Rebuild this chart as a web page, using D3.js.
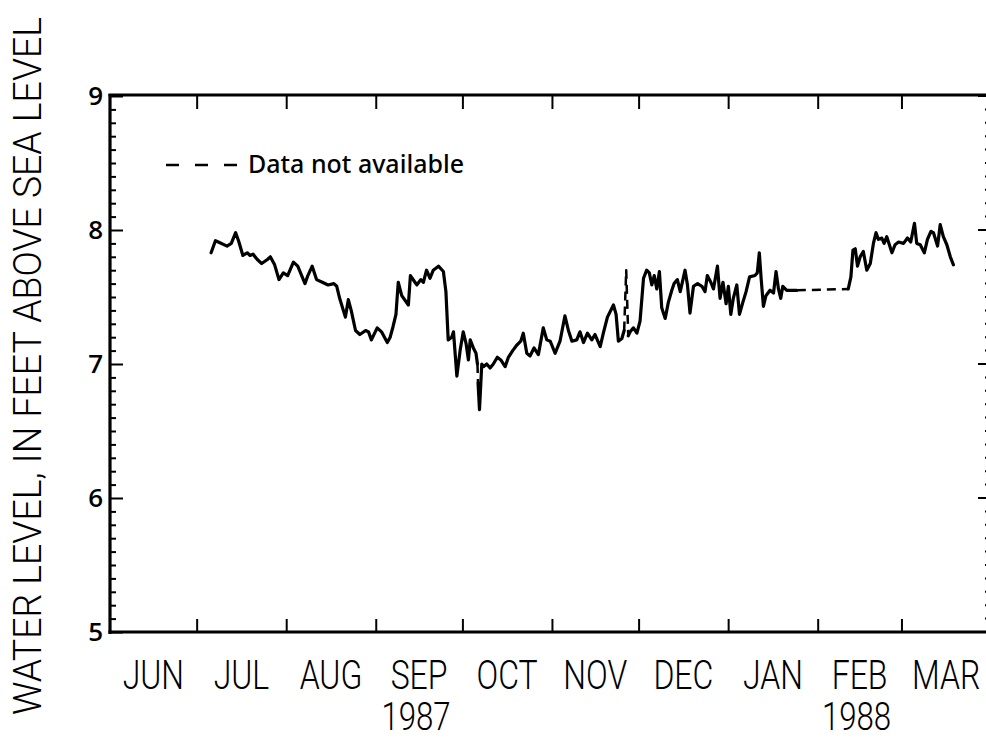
<!DOCTYPE html>
<html>
<head>
<meta charset="utf-8">
<script src="https://cdn.jsdelivr.net/npm/d3@7"></script>
<style>
  body { margin: 0; background: #fff; overflow: hidden; }
  svg { display: block; }
</style>
</head>
<body>
<script>
// Month and year labels along the time axis
const monthLabels = ["JUN", "JUL", "AUG", "SEP", "OCT", "NOV", "DEC", "JAN", "FEB", "MAR"];
const yearLabels = ["1987", "1988"];
const yearUnderMonth = ["1987-09-01", "1988-02-01"];
const yTickValues = [5, 6, 7, 8, 9];

// Water-level record (feet above sea level)
const obsDates = [
  "1987-07-06", "1987-07-07 12:00", "1987-07-08 12:00", "1987-07-11 12:00", "1987-07-13",
  "1987-07-14 12:00", "1987-07-15 12:00", "1987-07-17", "1987-07-18 12:00", "1987-07-19 12:00",
  "1987-07-20 12:00", "1987-07-22", "1987-07-23 12:00", "1987-07-25 12:00", "1987-07-26 12:00",
  "1987-07-28", "1987-07-29 12:00", "1987-07-31", "1987-08-01 12:00", "1987-08-03 12:00",
  "1987-08-05", "1987-08-07 12:00", "1987-08-08 12:00", "1987-08-10", "1987-08-11 12:00",
  "1987-08-13 12:00", "1987-08-15 12:00", "1987-08-17 12:00", "1987-08-18 12:00", "1987-08-19 12:00",
  "1987-08-21 12:00", "1987-08-22 12:00", "1987-08-23 12:00", "1987-08-25", "1987-08-26 12:00",
  "1987-08-28 12:00", "1987-08-29 12:00", "1987-08-30 12:00", "1987-09-01 12:00", "1987-09-03",
  "1987-09-05", "1987-09-06", "1987-09-07", "1987-09-08", "1987-09-08 19:00",
  "1987-09-10", "1987-09-12 07:00", "1987-09-13", "1987-09-14 14:00", "1987-09-15 05:00",
  "1987-09-16 14:00", "1987-09-17 12:00", "1987-09-18 14:00", "1987-09-19 19:00", "1987-09-20 22:00",
  "1987-09-22 17:00", "1987-09-24 10:00", "1987-09-25 07:00", "1987-09-26 02:00", "1987-09-27 07:00",
  "1987-09-27 22:00", "1987-09-29 02:00", "1987-09-30 05:00", "1987-10-01 07:00", "1987-10-02 07:00",
  "1987-10-03 02:00", "1987-10-03 17:00", "1987-10-04 19:00", "1987-10-05 17:00", "1987-10-06 05:00",
  "1987-10-06 10:00", "1987-10-06 22:00", "1987-10-07 17:00", "1987-10-08 07:00", "1987-10-09 10:00",
  "1987-10-10 14:00", "1987-10-11 17:00", "1987-10-13 02:00", "1987-10-14 07:00", "1987-10-15 19:00",
  "1987-10-16 22:00", "1987-10-18 10:00", "1987-10-19 19:00", "1987-10-21 05:00", "1987-10-22 02:00",
  "1987-10-23 07:00", "1987-10-24 10:00", "1987-10-25 19:00", "1987-10-27 07:00", "1987-10-29",
  "1987-10-30 05:00", "1987-10-31 10:00", "1987-11-02 02:00", "1987-11-03 19:00", "1987-11-05 12:00",
  "1987-11-06 17:00", "1987-11-07 22:00", "1987-11-09 14:00", "1987-11-10 17:00", "1987-11-11 22:00",
  "1987-11-13 07:00", "1987-11-14 19:00", "1987-11-15 22:00", "1987-11-17 17:00", "1987-11-18 19:00",
  "1987-11-20 05:00", "1987-11-22 07:00", "1987-11-23 05:00", "1987-11-24", "1987-11-25 05:00",
  "1987-11-26", "1987-11-26 17:00", "1987-11-27 10:00", "1987-11-28 02:00", "1987-11-29 05:00",
  "1987-11-30 10:00", "1987-12-01 12:00", "1987-12-02 17:00", "1987-12-03 19:00", "1987-12-04 17:00",
  "1987-12-05 14:00", "1987-12-06 10:00", "1987-12-07 07:00", "1987-12-08 05:00", "1987-12-09",
  "1987-12-10 05:00", "1987-12-11 07:00", "1987-12-12 12:00", "1987-12-13 07:00", "1987-12-14 10:00",
  "1987-12-15 10:00", "1987-12-17 02:00", "1987-12-17 22:00", "1987-12-18 19:00", "1987-12-20",
  "1987-12-21 10:00", "1987-12-22 22:00", "1987-12-24", "1987-12-24 19:00", "1987-12-26",
  "1987-12-26 22:00", "1987-12-28 07:00", "1987-12-29 05:00", "1987-12-30 05:00", "1987-12-31 07:00",
  "1988-01-01 02:00", "1988-01-01 22:00", "1988-01-02 19:00", "1988-01-04", "1988-01-04 22:00",
  "1988-01-06 02:00", "1988-01-07 05:00", "1988-01-08 10:00", "1988-01-10 07:00", "1988-01-11 02:00",
  "1988-01-11 19:00", "1988-01-12 10:00", "1988-01-13 05:00", "1988-01-14 02:00", "1988-01-15 12:00",
  "1988-01-16 17:00", "1988-01-17 14:00", "1988-01-18 10:00", "1988-01-19 05:00", "1988-01-19 22:00",
  "1988-01-21 07:00", "1988-01-24 19:00", "1988-02-11 14:00", "1988-02-12 12:00", "1988-02-13 05:00",
  "1988-02-14", "1988-02-14 19:00", "1988-02-15 17:00", "1988-02-16 19:00", "1988-02-18",
  "1988-02-19 05:00", "1988-02-20 07:00", "1988-02-21 05:00", "1988-02-22", "1988-02-23 05:00",
  "1988-02-24", "1988-02-24 22:00", "1988-02-26 17:00", "1988-02-27 19:00", "1988-02-29",
  "1988-03-01 17:00", "1988-03-03 02:00", "1988-03-04 05:00", "1988-03-05 12:00", "1988-03-06 07:00",
  "1988-03-07 12:00", "1988-03-08 22:00", "1988-03-10", "1988-03-11 05:00", "1988-03-12 02:00",
  "1988-03-13 12:00", "1988-03-14 10:00", "1988-03-15 12:00", "1988-03-16 17:00", "1988-03-17 22:00",
  "1988-03-19"
];
const levels = [
  7.83, 7.92, 7.91, 7.88, 7.90,
  7.98, 7.92, 7.81, 7.83, 7.81,
  7.82, 7.78, 7.75, 7.78, 7.80,
  7.74, 7.63, 7.68, 7.66, 7.76,
  7.73, 7.60, 7.66, 7.73, 7.63,
  7.61, 7.59, 7.60, 7.58, 7.49,
  7.35, 7.48, 7.40, 7.25, 7.22,
  7.25, 7.24, 7.18, 7.27, 7.24,
  7.16, 7.20, 7.28, 7.37, 7.61,
  7.51, 7.44, 7.66, 7.61, 7.59,
  7.63, 7.61, 7.70, 7.64, 7.70,
  7.73, 7.69, 7.54, 7.18, 7.20,
  7.24, 6.91, 7.10, 7.24, 7.15,
  7.03, 7.18, 7.12, 7.08, 7.00,
  6.86, 6.66, 7.00, 6.98, 7.00,
  6.97, 7.00, 7.05, 7.03, 6.98,
  7.05, 7.10, 7.14, 7.17, 7.23,
  7.08, 7.06, 7.12, 7.07, 7.27,
  7.18, 7.17, 7.08, 7.17, 7.36,
  7.25, 7.17, 7.18, 7.24, 7.16,
  7.23, 7.18, 7.22, 7.13, 7.23,
  7.35, 7.44, 7.37, 7.17, 7.19,
  7.25, 7.70, 7.21, 7.24, 7.27,
  7.23, 7.32, 7.64, 7.70, 7.68,
  7.59, 7.66, 7.56, 7.69, 7.42,
  7.34, 7.46, 7.55, 7.60, 7.63,
  7.54, 7.70, 7.59, 7.38, 7.58,
  7.60, 7.58, 7.54, 7.66, 7.61,
  7.56, 7.73, 7.49, 7.61, 7.45,
  7.58, 7.37, 7.49, 7.59, 7.37,
  7.46, 7.54, 7.65, 7.66, 7.68,
  7.83, 7.64, 7.43, 7.51, 7.55,
  7.53, 7.69, 7.56, 7.49, 7.58,
  7.55, 7.55, 7.56, 7.65, 7.85,
  7.86, 7.73, 7.80, 7.84, 7.70,
  7.75, 7.90, 7.98, 7.93, 7.94,
  7.90, 7.95, 7.83, 7.89, 7.91,
  7.90, 7.94, 7.91, 8.05, 7.90,
  7.89, 7.83, 7.93, 7.99, 7.98,
  7.88, 8.04, 7.95, 7.89, 7.80,
  7.74
];

// Periods with no recorded data (drawn dashed)
const missingFrom = ["1987-10-06 05:00", "1987-11-26", "1988-01-24 19:00"];
const missingTo   = ["1987-10-06 10:00", "1987-11-27 10:00", "1988-02-11 14:00"];

const W = 986, H = 738;
const parseDay = d3.utcParse("%Y-%m-%d");
const parseDayTime = d3.utcParse("%Y-%m-%d %H:%M");
const parseT = s => s.length > 10 ? parseDayTime(s) : parseDay(s);

const plotLeft = 110, plotRight = 991, plotTop = 96, plotBottom = 632;

const x = d3.scaleUtc()
  .domain([parseDay("1987-06-01"), parseDay("1988-04-01")])
  .range([plotLeft, plotRight]);
const y = d3.scaleLinear().domain([5, 9]).range([plotBottom, plotTop]);

const svg = d3.select("body").append("svg")
  .attr("width", W).attr("height", H)
  .style("overflow", "hidden");

const labelFont = "Roboto, 'Liberation Sans', sans-serif";

// Tick marks
const minorVals = d3.range(50, 91).map(v => v / 10).filter(v => Math.abs(v - Math.round(v)) > 1e-6);
const monthBounds = d3.utcMonth.range(parseDay("1987-07-01"), parseDay("1988-04-01"));

function styleAxis(g) {
  g.select(".domain").remove();
  g.selectAll(".tick line").attr("stroke", "#000").attr("stroke-width", 2);
}

svg.append("g").attr("transform", `translate(${plotLeft},0)`)
  .call(d3.axisLeft(y).tickValues(minorVals).tickSize(-6).tickFormat(""))
  .call(styleAxis);
svg.append("g").attr("transform", `translate(${plotLeft},0)`)
  .call(d3.axisLeft(y).tickValues(yTickValues).tickSize(-13).tickPadding(7).tickFormat(d3.format("d")))
  .call(styleAxis)
  .call(g => g.selectAll("text")
    .attr("fill", "#000")
    .style("font-family", "'Open Sans', 'Liberation Sans', sans-serif")
    .style("font-weight", 600)
    .style("font-size", "26px"));

// Right-hand ticks (the frame edge itself falls just outside the view)
const rightTicks = svg.append("g");
rightTicks.selectAll("line.minor").data(minorVals).join("line")
  .attr("class", "minor")
  .attr("x1", plotRight - 6).attr("x2", plotRight)
  .attr("y1", d => y(d)).attr("y2", d => y(d))
  .attr("stroke", "#000").attr("stroke-width", 2);
rightTicks.selectAll("line.major").data(yTickValues).join("line")
  .attr("class", "major")
  .attr("x1", plotRight - 13).attr("x2", plotRight)
  .attr("y1", d => y(d)).attr("y2", d => y(d))
  .attr("stroke", "#000").attr("stroke-width", 2);

svg.append("g").attr("transform", `translate(0,${plotBottom})`)
  .call(d3.axisBottom(x).tickValues(monthBounds).tickSize(-13).tickFormat(""))
  .call(styleAxis);
svg.append("g").attr("transform", `translate(0,${plotTop})`)
  .call(d3.axisTop(x).tickValues(monthBounds).tickSize(-13).tickFormat(""))
  .call(styleAxis);

// Frame
svg.append("line").attr("x1", plotLeft).attr("x2", plotLeft).attr("y1", plotTop - 2).attr("y2", plotBottom + 2)
  .attr("stroke", "#000").attr("stroke-width", 3.2);
svg.append("line").attr("x1", plotLeft - 1.5).attr("x2", W).attr("y1", plotBottom).attr("y2", plotBottom)
  .attr("stroke", "#000").attr("stroke-width", 3.2);
svg.append("line").attr("x1", plotLeft - 1.5).attr("x2", W).attr("y1", plotTop - 1).attr("y2", plotTop - 1)
  .attr("stroke", "#000").attr("stroke-width", 2.8);

// Month labels, centred in each month
const monthStarts = d3.utcMonth.range(parseDay("1987-06-01"), parseDay("1988-04-01"));
monthLabels.forEach((m, i) => {
  const s = monthStarts[i];
  const cx = (x(s) + x(d3.utcMonth.offset(s, 1))) / 2;
  svg.append("text")
    .attr("transform", `translate(${cx},689) scale(0.8,1)`)
    .attr("text-anchor", "middle")
    .style("font-family", labelFont).style("font-weight", 300).style("font-size", "40px")
    .text(m);
});
yearLabels.forEach((yr, i) => {
  const s = parseDay(yearUnderMonth[i]);
  const cx = (x(s) + x(d3.utcMonth.offset(s, 1))) / 2 - 3;
  svg.append("text")
    .attr("transform", `translate(${cx},730) scale(0.8,1)`)
    .attr("text-anchor", "middle")
    .style("font-family", labelFont).style("font-weight", 300).style("font-size", "39px")
    .text(yr);
});

// Y-axis title
svg.append("text")
  .attr("transform", "translate(41,366) rotate(-90)")
  .attr("text-anchor", "middle")
  .attr("textLength", 698).attr("lengthAdjust", "spacingAndGlyphs")
  .style("font-family", labelFont).style("font-weight", 300).style("font-size", "39px")
  .text("WATER LEVEL, IN FEET ABOVE SEA LEVEL");

// Legend
svg.append("line").attr("x1", 166).attr("x2", 237).attr("y1", 165).attr("y2", 165)
  .attr("stroke", "#000").attr("stroke-width", 2.4).attr("stroke-dasharray", "13,16");
svg.append("text").attr("x", 248).attr("y", 173)
  .attr("textLength", 216).attr("lengthAdjust", "spacingAndGlyphs")
  .style("font-family", "'Noto Sans', 'Liberation Sans', sans-serif")
  .style("font-weight", 500)
  .style("font-size", "25px")
  .text("Data not available");

// Water-level line: solid where recorded, dashed across missing periods
const pts = obsDates.map((d, i) => ({ t: parseT(d), v: levels[i] }));
const gaps = missingFrom.map((f, i) => [parseT(f), parseT(missingTo[i])]);
const inGap = (a, b) => gaps.some(([g0, g1]) => a.t >= g0 && b.t <= g1);

const runs = [];
for (let i = 0; i < pts.length - 1; i++) {
  const dashed = inGap(pts[i], pts[i + 1]);
  const last = runs[runs.length - 1];
  if (last && last.dashed === dashed) last.pts.push(pts[i + 1]);
  else runs.push({ dashed, pts: [pts[i], pts[i + 1]] });
}

const line = d3.line().x(d => x(d.t)).y(d => y(d.v));
svg.append("g").selectAll("path").data(runs).join("path")
  .attr("d", r => line(r.pts))
  .attr("fill", "none")
  .attr("stroke", "#000")
  .attr("stroke-width", r => r.dashed ? 2.5 : 3.2)
  .attr("stroke-linejoin", "round")
  .attr("stroke-linecap", r => r.dashed ? "butt" : "round")
  .attr("stroke-dasharray", r => r.dashed ? "9,6" : null);
</script>
</body>
</html>
